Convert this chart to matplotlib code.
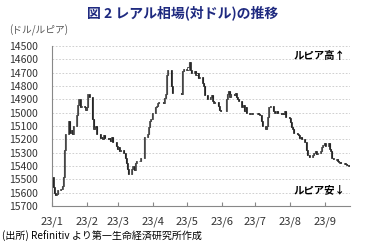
import numpy as np
import pandas as pd
import matplotlib
matplotlib.use("Agg")
import matplotlib.pyplot as plt
import matplotlib.dates as mdates

plt.rcParams['font.family'] = ['Noto Sans CJK JP', 'DejaVu Sans']

nan = np.nan

# daily USD/IDR, business days 2023-01-02 .. 2023-09-22 (one row per week)
close = [
    [15560, 15600, 15620, 15610, 15580],
    [15570, 15550, 15480, 15280, 15160],
    [15060, 15150, 15130, 15160, 15100],
    [15020, 14940, 14900, 14960, 14950],
    [14960, 14980, 14960, 14860, 14880],
    [15050, 15120, 15110, 15100, 15160],
    [15190, 15180, 15200, 15170, 15190],
    [15200, 15190, 15210, 15180, 15220],
    [15250, 15270, 15260, 15290, 15280],
    [15300, 15340, 15380, 15420, 15460],
    [15420, 15400, 15430, 15380, 15360],
    [15360, 15340, nan, nan, 15180],
    [15160, 15110, 15060, 15050, 15000],
    [14960, 14950, 14930, 14920, nan],
    [14930, 14890, 14860, 14720, 14680],
    [14800, 14850, nan, nan, nan],
    [nan, nan, 14860, 14690, 14670],
    [14680, 14660, 14620, 14680, 14700],
    [14690, 14720, 14700, 14740, 14730],
    [14780, 14800, 14870, nan, 14900],
    [14880, 14870, 14910, 14930, 14920],
    [14950, 14980, 14990, nan, nan],
    [14900, 14860, 14840, 14880, 14860],
    [14870, 14850, 14880, 14900, 14910],
    [14960, 14940, 14990, 14960, 15000],
    [15010, 15000, 15010, nan, nan],
    [15000, 15010, 15020, 15060, 15100],
    [15120, 15100, 15030, 14960, 14950],
    [14990, 15000, nan, 14990, 15000],
    [15010, 15000, 15010, 14990, 15030],
    [15040, 15070, 15110, 15120, 15150],
    [15160, 15170, 15190, 15180, 15200],
    [15220, 15280, 15320, nan, 15330],
    [15320, 15300, 15290, 15310, 15300],
    [15290, 15260, 15240, 15230, 15250],
    [15230, 15270, 15290, 15340, 15350],
    [15350, 15360, 15370, 15370, 15380],
    [15380, 15385, 15390, 15395, 15400],
]
high = [
    [15480, 15560, 15580, 15590, 15560],
    [15540, 15530, 15450, 15260, 15130],
    [15000, 15050, 15090, 15110, 15060],
    [14980, 14900, 14880, 14910, 14920],
    [14940, 14950, 14930, 14830, 14840],
    [14990, 15080, 15090, 15080, 15110],
    [15150, 15140, 15160, 15130, 15150],
    [15170, 15150, 15160, 15150, 15170],
    [15210, 15230, 15240, 15260, 15260],
    [15270, 15290, 15330, 15370, 15390],
    [15380, 15360, 15370, 15350, 15340],
    [15330, 15320, nan, nan, 15130],
    [15130, 15080, 15040, 15030, 14970],
    [14930, 14920, 14900, 14890, nan],
    [14880, 14860, 14830, 14700, 14640],
    [14700, 14730, nan, nan, nan],
    [nan, nan, 14800, 14640, 14610],
    [14610, 14600, 14540, 14580, 14650],
    [14650, 14670, 14680, 14690, 14700],
    [14740, 14760, 14800, nan, 14840],
    [14840, 14840, 14860, 14900, 14900],
    [14920, 14940, 14950, nan, nan],
    [14860, 14830, 14820, 14840, 14830],
    [14840, 14830, 14840, 14870, 14880],
    [14900, 14880, 14920, 14900, 14930],
    [14980, 14980, 14990, nan, nan],
    [14980, 14990, 14990, 15020, 15040],
    [15060, 15050, 14990, 14930, 14920],
    [14960, 14970, nan, 14970, 14970],
    [14980, 14980, 14985, 14970, 15000],
    [15000, 15030, 15060, 15080, 15100],
    [15120, 15130, 15150, 15150, 15160],
    [15180, 15210, 15270, nan, 15290],
    [15280, 15270, 15260, 15280, 15270],
    [15250, 15230, 15210, 15210, 15210],
    [15200, 15210, 15230, 15280, 15320],
    [15330, 15340, 15345, 15350, 15355],
    [15360, 15365, 15370, 15375, 15380],
]
low = [
    [15570, 15620, 15630, 15625, 15610],
    [15600, 15600, 15560, 15480, 15290],
    [15080, 15180, 15170, 15190, 15160],
    [15060, 15020, 14960, 14980, 14980],
    [14990, 15000, 14990, 14960, 14900],
    [15060, 15140, 15140, 15130, 15180],
    [15220, 15210, 15230, 15200, 15215],
    [15230, 15220, 15230, 15210, 15240],
    [15260, 15290, 15290, 15305, 15300],
    [15310, 15360, 15400, 15440, 15470],
    [15450, 15440, 15440, 15420, 15400],
    [15380, 15370, nan, nan, 15210],
    [15200, 15170, 15110, 15080, 15060],
    [15000, 14990, 14970, 14960, nan],
    [14970, 14930, 14910, 14860, 14730],
    [14830, 14870, nan, nan, nan],
    [nan, nan, 14920, 14840, 14720],
    [14700, 14700, 14680, 14720, 14740],
    [14720, 14740, 14740, 14760, 14760],
    [14800, 14830, 14890, nan, 14950],
    [14920, 14910, 14930, 14950, 14950],
    [14970, 15000, 15010, nan, nan],
    [14930, 14900, 14880, 14900, 14890],
    [14890, 14880, 14900, 14930, 14930],
    [15000, 14980, 15040, 15010, 15030],
    [15030, 15020, 15025, nan, nan],
    [15020, 15030, 15040, 15090, 15120],
    [15190, 15140, 15110, 15020, 14990],
    [15010, 15020, nan, 15010, 15020],
    [15030, 15020, 15030, 15010, 15050],
    [15060, 15100, 15130, 15150, 15170],
    [15180, 15190, 15210, 15200, 15220],
    [15240, 15300, 15350, nan, 15350],
    [15340, 15330, 15320, 15330, 15320],
    [15300, 15300, 15270, 15260, 15270],
    [15260, 15290, 15300, 15360, 15370],
    [15370, 15380, 15385, 15390, 15395],
    [15395, 15400, 15405, 15410, 15410],
]

month_labels = ["23/1", "23/2", "23/3", "23/4", "23/5", "23/6", "23/7", "23/8", "23/9"]
y_ticks = list(range(14500, 15701, 100))

dates = pd.bdate_range("2023-01-02", "2023-09-22")
c = np.array(close, dtype=float).ravel()
h = np.array(high, dtype=float).ravel()
l = np.array(low, dtype=float).ravel()

# open = previous available close
o = np.full_like(c, np.nan)
prev = h[0]
for i in range(len(c)):
    if np.isnan(c[i]):
        continue
    o[i] = prev
    prev = c[i]

x = mdates.date2num(dates.to_pydatetime())
ok = ~np.isnan(c)

fig = plt.figure(figsize=(3.66, 2.52), dpi=100)
ax = fig.add_axes([0.142, 0.183, 0.814, 0.634])

top = np.fmax(np.fmax(h, o), c)
bot = np.fmin(np.fmin(l, o), c)
ax.vlines(x[ok], top[ok], bot[ok], color="#262626", linewidth=0.8, zorder=3)
width = 0.9
for xi, oi, ci in zip(x[ok], o[ok], c[ok]):
    lo_, hi_ = min(oi, ci), max(oi, ci)
    face = "#262626" if ci > oi else "white"
    ax.bar(xi, max(hi_ - lo_, 5), bottom=lo_, width=width, color=face,
           edgecolor="#262626", linewidth=0.5, zorder=4)

ax.set_ylim(15700, 14500)
ax.set_yticks(y_ticks)
ax.set_yticklabels([str(v) for v in y_ticks], fontsize=7.5, color="#333333")
ax.grid(axis="y", linestyle=(0, (2, 2)), color="#c8c8c8", linewidth=0.6)
ax.set_axisbelow(True)

ax.set_xlim(mdates.date2num(pd.Timestamp("2023-01-01")),
            mdates.date2num(pd.Timestamp("2023-09-23")))
month_starts = pd.date_range("2023-01-01", "2023-09-01", freq="MS")
ax.set_xticks(mdates.date2num(month_starts.to_pydatetime()))
ax.set_xticklabels(month_labels, fontsize=8, color="#333333")

for s in ["top", "right"]:
    ax.spines[s].set_visible(False)
for s in ["left", "bottom"]:
    ax.spines[s].set_color("#888888")
    ax.spines[s].set_linewidth(0.8)
ax.tick_params(axis="y", length=0, pad=10)
ax.tick_params(axis="x", direction="in", length=3, color="#888888", pad=8)

fig.text(0.5, 0.95, "図 2 レアル相場(対ドル)の推移", ha="center", va="center",
         fontsize=10, fontweight="bold", color="#1f2a80")
fig.text(0.025, 0.88, "(ドル/ルピア)", ha="left", va="center", fontsize=7, color="#555555")
fig.text(0.945, 0.778, "ルピア高↑", ha="right", va="center", fontsize=7.5, fontweight="bold")
fig.text(0.945, 0.246, "ルピア安↓", ha="right", va="center", fontsize=7.5, fontweight="bold")
fig.text(0.005, 0.06, "(出所) Refinitiv より第一生命経済研究所作成", ha="left", va="center",
         fontsize=7.2)

fig.savefig("out.png", dpi=100)
